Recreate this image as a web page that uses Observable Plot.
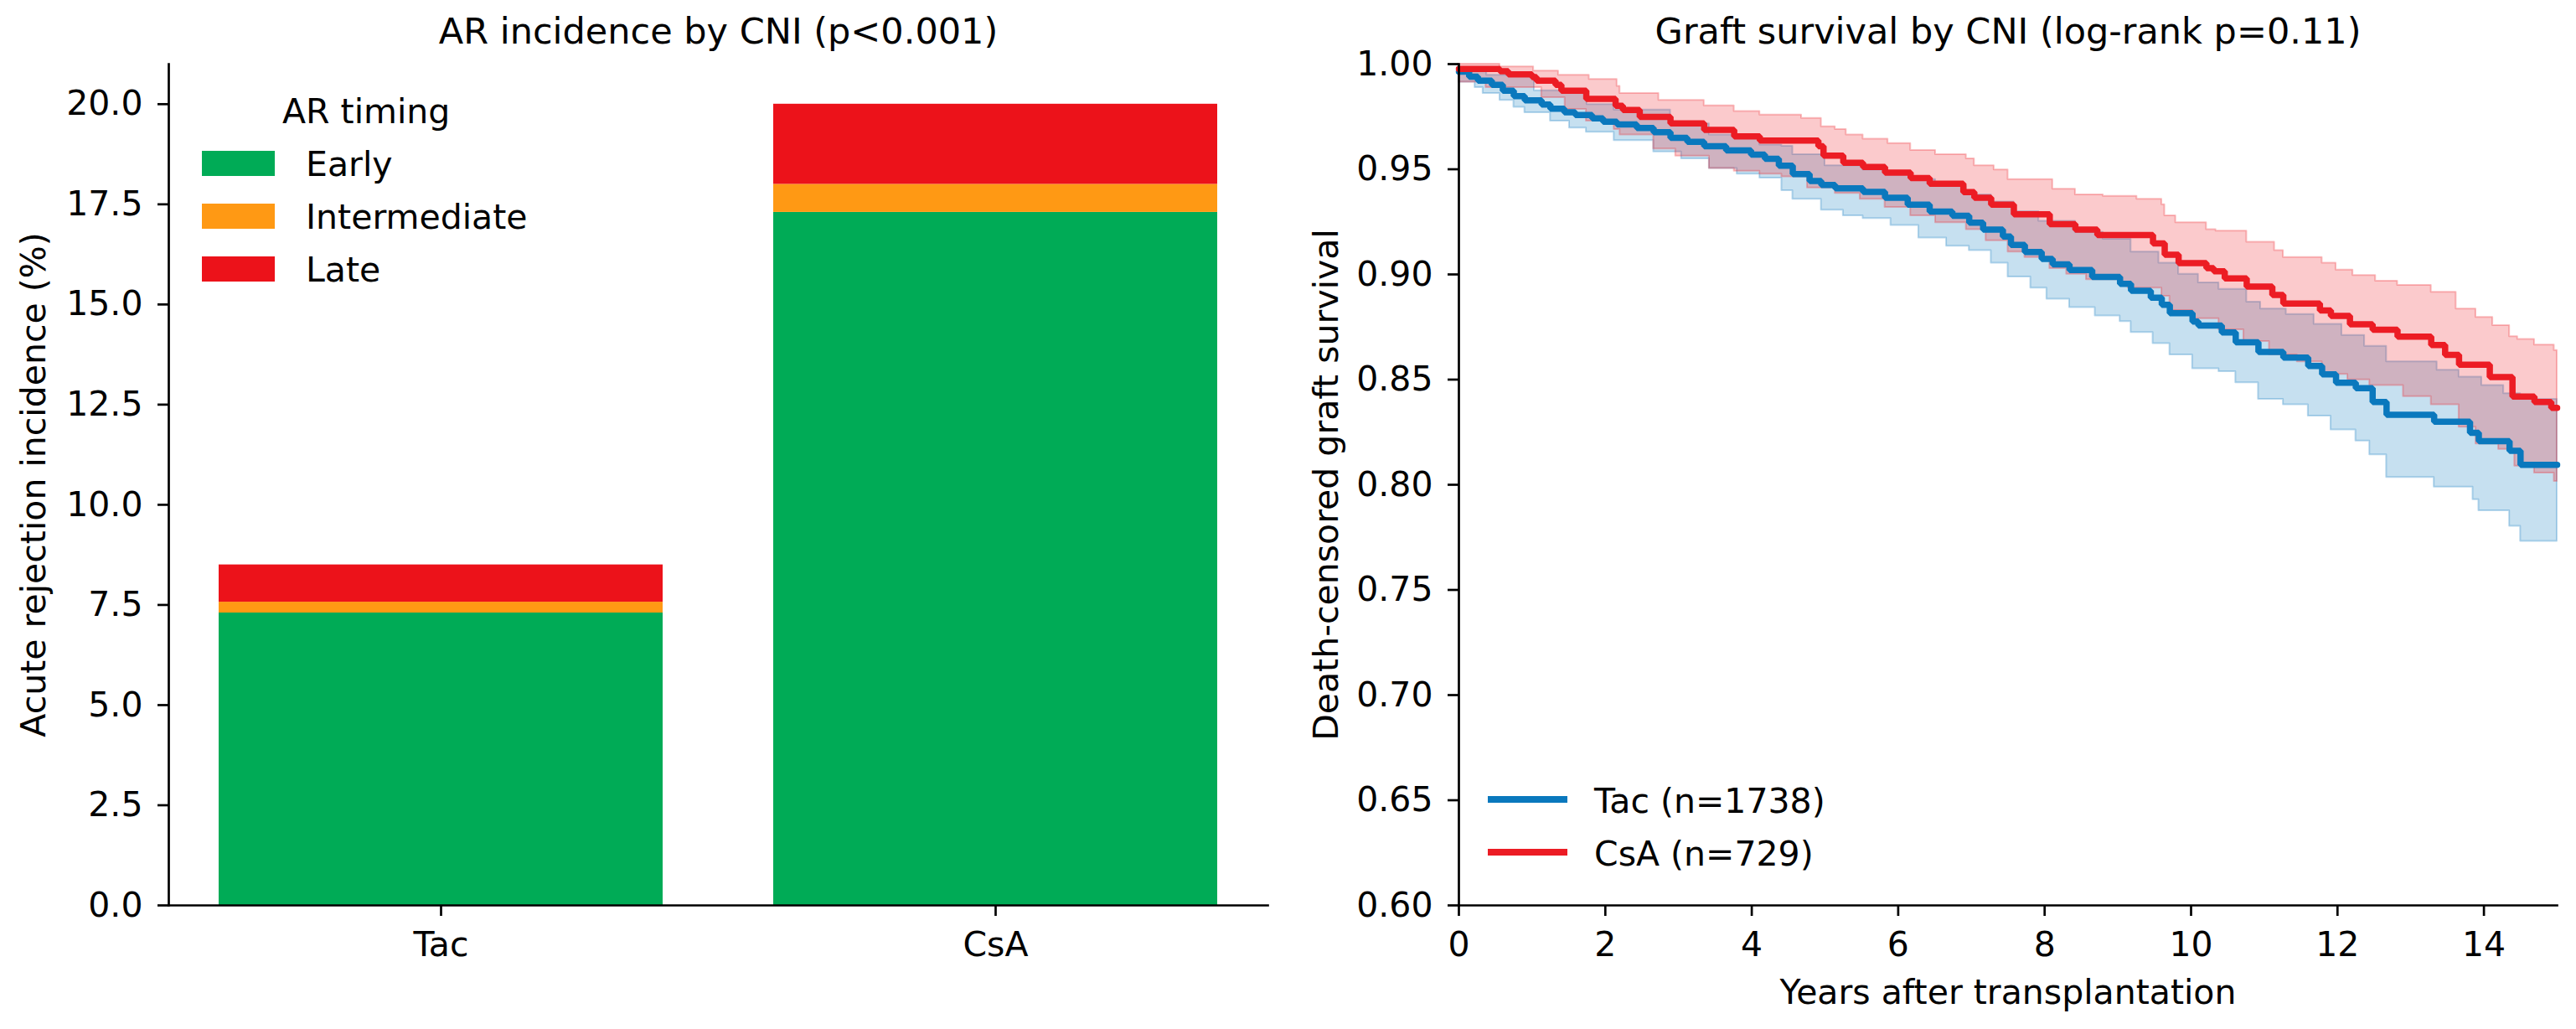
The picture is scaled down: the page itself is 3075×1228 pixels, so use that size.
<!DOCTYPE html>
<html><head><meta charset="utf-8">
<script src="https://cdn.jsdelivr.net/npm/d3@7"></script>
<script src="https://cdn.jsdelivr.net/npm/@observablehq/plot@0.6"></script>
<style>
body{margin:0;background:#fff;}
#wrap{position:relative;width:3075px;height:1228px;font-family:"DejaVu Sans",sans-serif;color:#000;overflow:hidden;}
#left{position:absolute;left:0;top:0;}
#right{position:absolute;left:1540px;top:0;}
.leg{position:absolute;font-size:41px;line-height:1;white-space:nowrap;}
.sw{position:absolute;}
</style></head><body><div id="wrap"><div id="left"></div><div id="right"></div></div>
<script>
// ---------- Left panel data ----------
const cniGroups = ["Tac", "CsA"];
const timingCats = ["Early", "Intermediate", "Late"];
const tacIncidence = [7.3, 0.27, 0.93];
const csaIncidence = [17.3, 0.70, 2.00];
const barColors = ["#00ab56", "#ff9914", "#ec121a"];
const leftYTicks = [0, 2.5, 5, 7.5, 10, 12.5, 15, 17.5, 20];
const leftTitle = "AR incidence by CNI (p<0.001)";
const leftYLabel = "Acute rejection incidence (%)";
const legendTitle = "AR timing";

// ---------- Right panel data (Kaplan-Meier) ----------
const rightTitle = "Graft survival by CNI (log-rank p=0.11)";
const rightYLabel = "Death-censored graft survival";
const rightXLabel = "Years after transplantation";
const rightXTicks = [0, 2, 4, 6, 8, 10, 12, 14];
const rightYTicks = [0.60, 0.65, 0.70, 0.75, 0.80, 0.85, 0.90, 0.95, 1.00];
const seriesNames = ["Tac (n=1738)", "CsA (n=729)"];
const tacColor = "#0a78bd";
const csaColor = "#ec1c24";

const tacTime = [0,0.14,0.26,0.45,0.60,0.75,0.90,1.13,1.25,1.44,1.59,1.82,1.97,2.16,2.43,2.66,2.89,3.12,3.35,3.65,3.99,4.18,4.37,4.56,4.79,4.95,5.14,5.52,5.82,6.13,6.43,6.74,6.97,7.16,7.43,7.54,7.73,7.96,8.11,8.34,8.65,9.03,9.18,9.45,9.60,9.71,10.02,10.10,10.42,10.61,10.92,11.26,11.60,11.79,11.98,12.25,12.48,12.67,13.32,13.81,13.93,14.35,14.50,15];
const tacSurv = [0.9964,0.9940,0.9921,0.9901,0.9874,0.9848,0.9828,0.9808,0.9788,0.9771,0.9758,0.9742,0.9726,0.9713,0.9696,0.9676,0.9649,0.9630,0.9610,0.9590,0.9570,0.9550,0.9517,0.9477,0.9444,0.9425,0.9409,0.9392,0.9365,0.9332,0.9299,0.9279,0.9246,0.9213,0.9180,0.9140,0.9107,0.9074,0.9048,0.9021,0.8988,0.8955,0.8922,0.8889,0.8856,0.8816,0.8776,0.8757,0.8724,0.8677,0.8631,0.8605,0.8565,0.8525,0.8485,0.8459,0.8393,0.8333,0.8300,0.8247,0.8207,0.8161,0.8095,0.8095];
const tacUpperTime = [0,0.15,0.38,1.03,1.75,2.12,2.89,3.42,4.11,4.41,4.56,5.0,5.52,5.82,6.17,6.51,6.93,7.27,7.58,7.92,8.42,8.80,9.18,9.56,9.83,10.10,10.38,10.76,10.95,11.30,11.68,12.06,12.37,12.67,13.36,13.66,13.97,14.27,14.50,15];
const tacUpper = [0.9980,0.9965,0.9947,0.9874,0.9808,0.9782,0.9716,0.9663,0.9616,0.9610,0.9570,0.9517,0.9497,0.9478,0.9451,0.9418,0.9378,0.9345,0.9299,0.9253,0.9200,0.9167,0.9107,0.9054,0.9001,0.8960,0.8929,0.8869,0.8836,0.8810,0.8763,0.8710,0.8658,0.8585,0.8545,0.8512,0.8472,0.8433,0.8406,0.8406];
const tacLowerTime = [0,0.22,0.33,0.56,0.75,0.90,1.25,1.51,1.74,2.12,2.66,3.04,3.42,3.80,4.11,4.41,4.56,4.95,5.25,5.52,5.90,6.28,6.66,6.97,7.27,7.50,7.81,8.03,8.34,8.69,9.03,9.18,9.48,9.71,10.02,10.38,10.61,10.92,11.26,11.60,11.91,12.25,12.44,12.67,13.32,13.85,13.93,14.35,14.50,15];
const tacLower = [0.9914,0.9888,0.9861,0.9828,0.9795,0.9769,0.9729,0.9696,0.9676,0.9636,0.9583,0.9550,0.9504,0.9477,0.9458,0.9398,0.9358,0.9306,0.9279,0.9266,0.9233,0.9173,0.9134,0.9114,0.9054,0.8988,0.8935,0.8882,0.8843,0.8803,0.8776,0.8724,0.8671,0.8618,0.8552,0.8538,0.8485,0.8406,0.8380,0.8327,0.8261,0.8208,0.8142,0.8035,0.7989,0.7929,0.7876,0.7803,0.7731,0.7731];

const csaTime = [0,0.56,0.675,1.0,1.06,1.32,1.40,1.74,2.14,2.24,2.47,2.89,3.35,3.76,4.11,4.91,4.98,5.25,5.52,5.82,6.17,6.43,6.89,7.04,7.27,7.58,8.07,8.42,8.72,9.48,9.64,9.83,10.21,10.31,10.46,10.76,11.11,11.26,11.76,11.91,12.17,12.48,12.82,13.28,13.47,13.66,14.08,14.39,14.69,14.92,15];
const csaSurv = [0.9977,0.9966,0.9951,0.9938,0.9921,0.9901,0.9874,0.9835,0.9802,0.9782,0.9749,0.9718,0.9687,0.9656,0.9636,0.9610,0.9565,0.9531,0.9511,0.9484,0.9458,0.9431,0.9391,0.9365,0.9332,0.9286,0.9239,0.9213,0.9187,0.9147,0.9094,0.9054,0.9030,0.9015,0.8981,0.8942,0.8902,0.8862,0.8829,0.8803,0.8763,0.8737,0.8704,0.8664,0.8618,0.8571,0.8512,0.8419,0.8393,0.8366,0.8366];
const csaUpperTime = [0,0.56,1.02,1.36,1.78,2.16,2.20,2.73,3.35,3.76,4.11,4.68,4.95,5.14,5.29,5.52,5.86,6.17,6.51,6.93,7.04,7.31,7.50,8.11,8.42,8.80,9.26,9.60,9.64,9.79,10.21,10.34,10.76,11.14,11.26,11.79,11.98,12.21,12.52,12.82,13.28,13.62,13.89,14.12,14.35,14.46,14.69,14.96,15];
const csaUpper = [1.0,0.9987,0.9967,0.9947,0.9927,0.9894,0.9861,0.9828,0.9802,0.9775,0.9758,0.9742,0.9702,0.9689,0.9663,0.9643,0.9623,0.9590,0.9570,0.9550,0.9517,0.9497,0.9451,0.9405,0.9378,0.9372,0.9358,0.9332,0.9279,0.9246,0.9213,0.9206,0.9153,0.9114,0.9081,0.9054,0.9021,0.8995,0.8968,0.8948,0.8915,0.8836,0.8796,0.8757,0.8704,0.8691,0.8664,0.8638,0.8638];
const csaLowerTime = [0,0.37,1.13,1.45,1.74,2.12,2.20,2.66,2.96,3.42,3.76,4.11,4.41,4.76,5.14,5.48,5.82,6.17,6.51,6.93,7.20,7.50,7.73,8.07,8.30,8.57,9.03,9.14,9.60,9.71,10.02,10.38,10.72,11.07,11.45,11.79,12.14,12.44,12.90,13.28,13.66,13.89,14.20,14.42,14.69,14.96,15];
const csaLower = [0.9914,0.9888,0.9841,0.9785,0.9729,0.9689,0.9663,0.9597,0.9563,0.9504,0.9491,0.9477,0.9464,0.9411,0.9385,0.9358,0.9319,0.9279,0.9246,0.9213,0.9160,0.9107,0.9081,0.9028,0.9001,0.8975,0.8962,0.8935,0.8896,0.8829,0.8790,0.8737,0.8681,0.8618,0.8585,0.8525,0.8499,0.8472,0.8419,0.8380,0.8274,0.8194,0.8168,0.8089,0.8056,0.8016,0.8016];

// ---------- helpers ----------
const FONT = "DejaVu Sans";
const LBL = 41, TTL = 43, TICK = 41, SPINE = 2.7, TSZ = 13, TPAD = 18, LW = 7.5;
function stepAt(ts, vs, t) { let v = vs[0]; for (let i = 0; i < ts.length; i++) { if (ts[i] <= t) v = vs[i]; else break; } return v; }
function bandRows(loT, loV, hiT, hiV) {
  const ts = Array.from(new Set([...loT, ...hiT])).sort((a, b) => a - b);
  return ts.map(t => ({t, lo: stepAt(loT, loV, t), hi: stepAt(hiT, hiV, t)}));
}
const curveRows = (ts, vs) => ts.map((t, i) => ({t, s: vs[i]}));

const M = {marginLeft: 201, marginTop: 76, marginBottom: 148};
const baseStyle = {fontFamily: FONT, fontSize: TICK + "px", color: "#000", background: "#fff"};

// ---------- Left chart ----------
const barRows = [];
cniGroups.forEach((g, gi) => {
  const vals = gi === 0 ? tacIncidence : csaIncidence;
  timingCats.forEach((c, ci) => barRows.push({group: g, timing: c, value: vals[ci]}));
});

const leftChart = Plot.plot({
  width: 1540, height: 1228, ...M, marginRight: 27,
  style: baseStyle,
  x: {type: "band", domain: cniGroups, paddingInner: 0.2, paddingOuter: 0.09, label: null},
  y: {domain: [0, 21], label: null},
  color: {domain: timingCats, range: barColors},
  marks: [
    Plot.barY(barRows, {x: "group", y: "value", fill: "timing"}),
    Plot.axisY({ticks: leftYTicks, tickFormat: d3.format(".1f"), tickSize: TSZ, tickPadding: TPAD, strokeWidth: SPINE, fontSize: TICK, label: null}),
    Plot.axisX({tickSize: TSZ, tickPadding: TPAD, strokeWidth: SPINE, fontSize: TICK, label: null}),
    Plot.frame({anchor: "left", strokeWidth: SPINE}),
    Plot.frame({anchor: "bottom", strokeWidth: SPINE}),
    Plot.text([leftTitle], {text: d => d, frameAnchor: "top", lineAnchor: "middle", dy: -38, fontSize: TTL}),
    Plot.text([leftYLabel], {text: d => d, frameAnchor: "left", textAnchor: "middle", lineAnchor: "middle", dx: -161, rotate: -90, fontSize: LBL})
  ]
});
document.getElementById("left").appendChild(leftChart);

// ---------- Right chart ----------
const tacBand = bandRows(tacLowerTime, tacLower, tacUpperTime, tacUpper);
const csaBand = bandRows(csaLowerTime, csaLower, csaUpperTime, csaUpper);
const rightChart = Plot.plot({
  width: 1535, height: 1228, ...M, marginRight: 23,
  style: baseStyle,
  x: {domain: [0, 15], label: null},
  y: {domain: [0.6, 1.0], label: null},
  marks: [
    Plot.areaY(tacBand, {x: "t", y1: "lo", y2: "hi", curve: "step-after", fill: tacColor, fillOpacity: 0.23, stroke: tacColor, strokeOpacity: 0.28, strokeWidth: 2}),
    Plot.areaY(csaBand, {x: "t", y1: "lo", y2: "hi", curve: "step-after", fill: csaColor, fillOpacity: 0.23, stroke: csaColor, strokeOpacity: 0.28, strokeWidth: 2}),
    Plot.line(curveRows(tacTime, tacSurv), {x: "t", y: "s", curve: "step-after", stroke: tacColor, strokeWidth: LW, strokeLinejoin: "miter"}),
    Plot.line(curveRows(csaTime, csaSurv), {x: "t", y: "s", curve: "step-after", stroke: csaColor, strokeWidth: LW, strokeLinejoin: "miter"}),
    Plot.axisY({ticks: rightYTicks, tickFormat: d3.format(".2f"), tickSize: TSZ, tickPadding: TPAD, strokeWidth: SPINE, fontSize: TICK, label: null}),
    Plot.axisX({ticks: rightXTicks, tickFormat: d3.format("d"), tickSize: TSZ, tickPadding: TPAD, strokeWidth: SPINE, fontSize: TICK, label: null}),
    Plot.frame({anchor: "left", strokeWidth: SPINE}),
    Plot.frame({anchor: "bottom", strokeWidth: SPINE}),
    Plot.text([rightTitle], {text: d => d, frameAnchor: "top", lineAnchor: "middle", dy: -38, fontSize: TTL}),
    Plot.text([rightYLabel], {text: d => d, frameAnchor: "left", textAnchor: "middle", lineAnchor: "middle", dx: -158, rotate: -90, fontSize: LBL}),
    Plot.text([rightXLabel], {text: d => d, frameAnchor: "bottom", lineAnchor: "middle", dy: 104, fontSize: LBL})
  ]
});
document.getElementById("right").appendChild(rightChart);

// ---------- Legends (HTML overlays) ----------
const wrap = document.getElementById("wrap");
function addDiv(cls, styles, text) {
  const d = document.createElement("div");
  d.className = cls;
  Object.assign(d.style, styles);
  if (text != null) d.textContent = text;
  wrap.appendChild(d);
  return d;
}
addDiv("leg", {left: "337px", top: "133px", transform: "translateY(-50%)"}, legendTitle);
const legRowY = [195, 258, 321];
timingCats.forEach((c, i) => {
  addDiv("sw", {left: "241px", top: (legRowY[i] - 15) + "px", width: "87px", height: "30px", background: barColors[i]});
  addDiv("leg", {left: "365px", top: (legRowY[i] + 1) + "px", transform: "translateY(-50%)"}, c);
});
const kmLegY = [954, 1017];
const kmColors = [tacColor, csaColor];
seriesNames.forEach((s, i) => {
  addDiv("sw", {left: "1776px", top: (kmLegY[i] - 4) + "px", width: "95px", height: "8px", background: kmColors[i]});
  addDiv("leg", {left: "1903px", top: (kmLegY[i] + 2) + "px", transform: "translateY(-50%)"}, s);
});
</script>
</body></html>
